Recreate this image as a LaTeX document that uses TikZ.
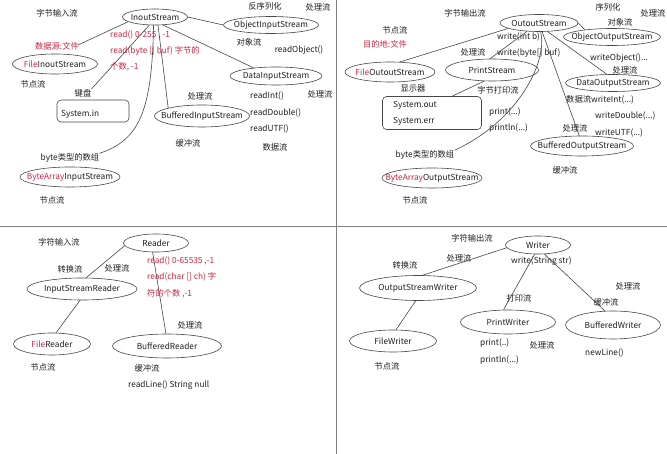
\documentclass[tikz,border=0pt]{standalone}
\usepackage{fontspec}
\setmainfont{Noto Sans CJK SC}
\usetikzlibrary{shapes.geometric}
\definecolor{txt}{RGB}{30,30,30}
\definecolor{rd}{RGB}{200,40,70}
\definecolor{ln}{RGB}{70,70,70}
\newcommand\ellnode[5]{\node[ell,minimum width=#3,minimum height=#4] (#1) at #2 {}; \node[t] at (#1) {#5};}
\begin{document}
\begin{tikzpicture}[x=1pt,y=-1pt,
  ell/.style={draw=ln,ellipse,inner sep=0pt,line width=0.6pt},
  t/.style={font=\fontsize{8.3}{10}\selectfont,inner sep=0pt,text=txt},
  tl/.style={t,anchor=west},
  r/.style={t,text=rd},
  rl/.style={t,text=rd,anchor=west},
  ln/.style={draw=ln,line width=0.6pt},
  box/.style={draw=ln,rounded corners=4pt,line width=0.6pt}]
\useasboundingbox (0,0) rectangle (667,454);
\fill[white] (0,0) rectangle (667,454);
\draw[gray,line width=1pt] (336,0) -- (336,454);
\draw[gray,line width=1pt] (0,227) -- (667,227);
% ---------- Q1
\node[t] at (57,13) {字节输入流};
\ellnode{ins}{(155,17)}{65pt}{16pt}{InoutStream}
\ellnode{ois}{(271,25)}{95pt}{17pt}{ObjectInputStream}
\node[t] at (265,6) {反序列化};
\node[t] at (318,7) {处理流};
\node[t] at (249,42) {对象流};
\node[t] at (299,50) {readObject()};
\node[rl] at (110,35) {read() 0-255 , -1};
\node[rl] at (110,51) {read(byte [] buf) 字节的};
\node[rl] at (110,67) {个数, -1};
\node[r] at (57,46) {数据源:文件};
\ellnode{fis}{(55,64)}{85pt}{20pt}{\textcolor{rd}{File}InoutStream}
\node[t] at (33,84) {节点流};
\ellnode{dis}{(276,76)}{92pt}{18pt}{DataInputStream}
\node[t] at (320,94) {处理流};
\node[tl] at (250,96) {readInt()};
\node[tl] at (250,113) {readDouble()};
\node[tl] at (250,129) {readUTF()};
\node[t] at (275,147) {数据流};
\node[t] (kb) at (83,93) {键盘};
\node[box,minimum width=72pt,minimum height=22pt] (sin) at (93,111) {};
\node[tl] at (61,114) {System.in};
\node[t] at (200,96) {处理流};
\ellnode{bis}{(202,116)}{95pt}{22pt}{BufferedInputStream}
\node[t] at (188,143) {缓冲流};
\node[t] (bat) at (70,158) {byte类型的数组};
\ellnode{bais}{(70,177)}{100pt}{20pt}{\textcolor{rd}{ByteArray}InputStream}
\node[t] at (52,200) {节点流};
\coordinate (fisend) at (78,45);
\draw[ln] (ins.190) -- (fisend);
\draw[ln] (ins.235) -- (kb.north east);
\draw[ln] (ins.260) .. controls (152,110) and (140,140) .. (bat.north east);
\draw[ln] (ins.290) -- (bis.north west);
\draw[ln] (ins.315) -- (dis.160);
\draw[ln] (ins.east) -- (ois.west);
% ---------- Q2
\node[t] at (465,13) {字节输出流};
\ellnode{os}{(539,23)}{78pt}{17pt}{OutoutStream}
\node[t] at (608,7) {序列化};
\node[t] at (653,13) {处理流};
\node[t] at (620,22) {对象流};
\ellnode{oos}{(612,37)}{97pt}{17pt}{ObjectOutputStream}
\node[t] at (395,30) {节点流};
\node[r] at (385,44) {目的地:文件};
\node[tl] at (497,37) {write(int b)};
\node[tl] at (497,53) {write(byte[] buf)};
\node[tl] at (590,58) {writeObject()...};
\node[t] at (625,70) {处理流};
\ellnode{fos}{(390,72)}{90pt}{20pt}{\textcolor{rd}{File}OutoutStream}
\node[t] at (473,52) {处理流};
\ellnode{ps}{(492,70)}{93pt}{22pt}{PrintStream}
\ellnode{dos}{(613,83)}{95pt}{17pt}{DataOutputStream}
\node[t] at (413,89) {显示器};
\node[t] at (498,90) {字节打印流};
\node[tl] at (566,100) {数据流writeInt(...)};
\node[tl] at (595,116) {writeDouble(...)};
\node[tl] at (595,133) {writeUTF(...)};
\node[t] at (575,128) {处理流};
\node[box,minimum width=99pt,minimum height=33pt] (sout) at (432,113) {};
\node[tl] at (393,105) {System.out};
\node[tl] at (393,121) {System.err};
\node[tl] at (489,112) {print(...)};
\node[tl] at (489,128) {println(...)};
\ellnode{bos}{(582,146)}{103pt}{20pt}{BufferedOutputStream}
\node[t] at (565,170) {缓冲流};
\node[t] (bat2) at (425,155) {byte类型的数组};
\ellnode{baos}{(432,178)}{100pt}{20pt}{\textcolor{rd}{ByteArray}OutputStream}
\node[t] at (415,200) {节点流};
\draw[ln] (os.190) -- (fos.45);
\draw[ln] (os.215) -- (ps.100);
\draw[ln] (ps.235) -- (sout.40);
\draw[ln] (os.280) .. controls (548,60) and (520,120) .. (bat2.north east);
\draw[ln] (os.290) -- (bos.105);
\draw[ln] (os.315) -- (dos.125);
\draw[ln] (os.east) -- (oos.165);
% ---------- Q3
\node[t] at (59,242) {字符输入流};
\ellnode{rdr}{(156,243)}{65pt}{18pt}{Reader}
\node[rl] at (147,261) {read()  0-65535 ,-1};
\node[rl] at (147,277) {read(char [] ch) 字};
\node[rl] at (147,294) {符的个数 ,-1};
\node[t] at (70,269) {转换流};
\node[t] at (117,268) {处理流};
\ellnode{isr}{(82,289)}{110pt}{22pt}{InputStreamReader}
\ellnode{fr}{(52,344)}{77pt}{22pt}{\textcolor{rd}{File}Reader}
\node[t] at (43,367) {节点流};
\node[t] at (190,325) {处理流};
\ellnode{br}{(167,346)}{109pt}{24pt}{BufferedReader}
\node[t] at (147,368) {缓冲流};
\node[tl] at (128,385) {readLine() String  null};
\draw[ln] (rdr.185) -- (isr.70);
\draw[ln] (isr.260) -- (fr.70);
\draw[ln] (rdr.250) -- (br.95);
% ---------- Q4
\node[t] at (472,238) {字符输出流};
\ellnode{wr}{(538,245)}{65pt}{18pt}{Writer}
\node[tl] at (511,261) {write(String str)};
\node[t] at (405,265) {转换流};
\node[t] at (459,258) {处理流};
\ellnode{osw}{(418,288)}{117pt}{25pt}{OutputStreamWriter}
\ellnode{fw}{(393,341)}{87pt}{22pt}{FileWriter}
\node[t] at (387,366) {节点流};
\node[t] at (519,298) {打印流};
\ellnode{pw}{(508,322)}{95pt}{24pt}{PrintWriter}
\node[tl] at (480,343) {print(..)};
\node[tl] at (480,360) {println(...)};
\node[t] at (542,345) {处理流};
\node[t] at (628,286) {处理流};
\node[t] at (606,302) {缓冲流};
\ellnode{bw}{(613,325)}{95pt}{28pt}{BufferedWriter}
\node[tl] at (585,353) {newLine()};
\draw[ln] (wr.185) -- (osw.70);
\draw[ln] (osw.260) -- (fw.75);
\draw[ln] (wr.250) -- (pw.110);
\draw[ln] (wr.305) -- (bw.120);
\end{tikzpicture}
\end{document}
